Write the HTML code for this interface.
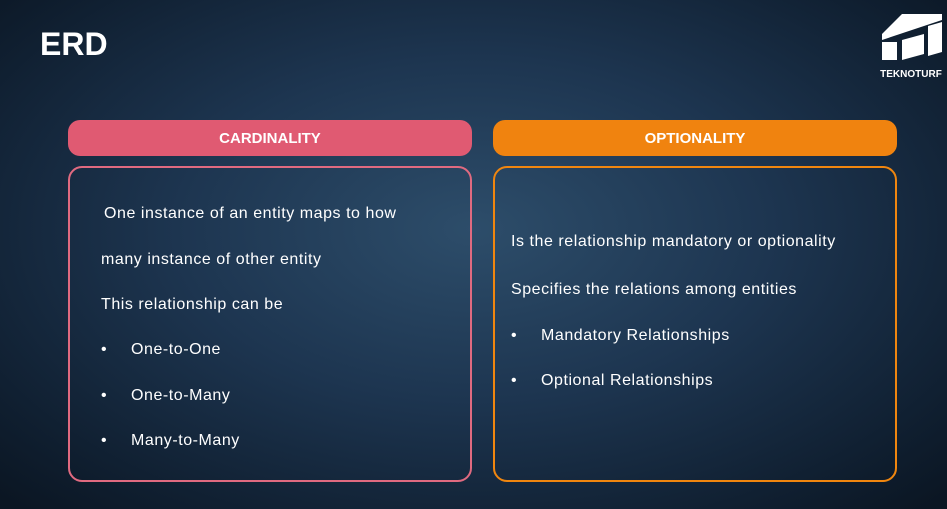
<!DOCTYPE html>
<html><head><style>
body{margin:0;width:947px;height:509px;overflow:hidden;font-family:"Liberation Sans",sans-serif;
background:radial-gradient(ellipse 70% 75% at 50% 45%,#2d4d6a 0%,#1d3550 45%,#0f1e2f 85%,#0b1623 100%);position:relative;color:#fff}
.t{position:absolute;font-size:16px;letter-spacing:0.55px;white-space:nowrap}
.h{position:absolute;top:120px;width:404px;height:36px;border-radius:12px;font-weight:bold;font-size:15px;text-align:center;line-height:38px}
.b{position:absolute;top:166px;width:400px;height:312px;border-radius:14px;border:2px solid}
</style></head><body>
<div style="position:absolute;left:40px;top:26px;font-size:32px;font-weight:bold">ERD</div>
<svg style="position:absolute;left:878px;top:10px" width="66" height="70">
<polygon points="24,4 64,4 64,10 4,30 4,24" fill="#fff"/>
<polygon points="50,16 64,12 64,42 50,46" fill="#fff"/>
<rect x="4" y="32" width="15" height="18" fill="#fff"/>
<polygon points="24,30 46,24 46,44 24,50" fill="#fff"/>
<text x="33" y="67" text-anchor="middle" font-size="10" font-weight="bold" fill="#fff" font-family="Liberation Sans">TEKNOTURF</text>
</svg>
<div class="h" style="left:68px;background:#e05a72">CARDINALITY</div>
<div class="h" style="left:493px;background:#f0830f">OPTIONALITY</div>
<div class="b" style="left:68px;border-color:#e06a80"></div>
<div class="b" style="left:493px;border-color:#f0860f"></div>
<div class="t" style="left:104px;top:205px">One instance of an entity maps to how</div>
<div class="t" style="left:101px;top:251px">many instance of other entity</div>
<div class="t" style="left:101px;top:296px">This relationship can be</div>
<div class="t" style="left:101px;top:341px">•</div><div class="t" style="left:131px;top:341px">One-to-One</div>
<div class="t" style="left:101px;top:387px">•</div><div class="t" style="left:131px;top:387px">One-to-Many</div>
<div class="t" style="left:101px;top:432px">•</div><div class="t" style="left:131px;top:432px">Many-to-Many</div>
<div class="t" style="left:511px;top:233px">Is the relationship mandatory or optionality</div>
<div class="t" style="left:511px;top:281px">Specifies the relations among entities</div>
<div class="t" style="left:511px;top:327px">•</div><div class="t" style="left:541px;top:327px">Mandatory Relationships</div>
<div class="t" style="left:511px;top:372px">•</div><div class="t" style="left:541px;top:372px">Optional Relationships</div>
</body></html>
